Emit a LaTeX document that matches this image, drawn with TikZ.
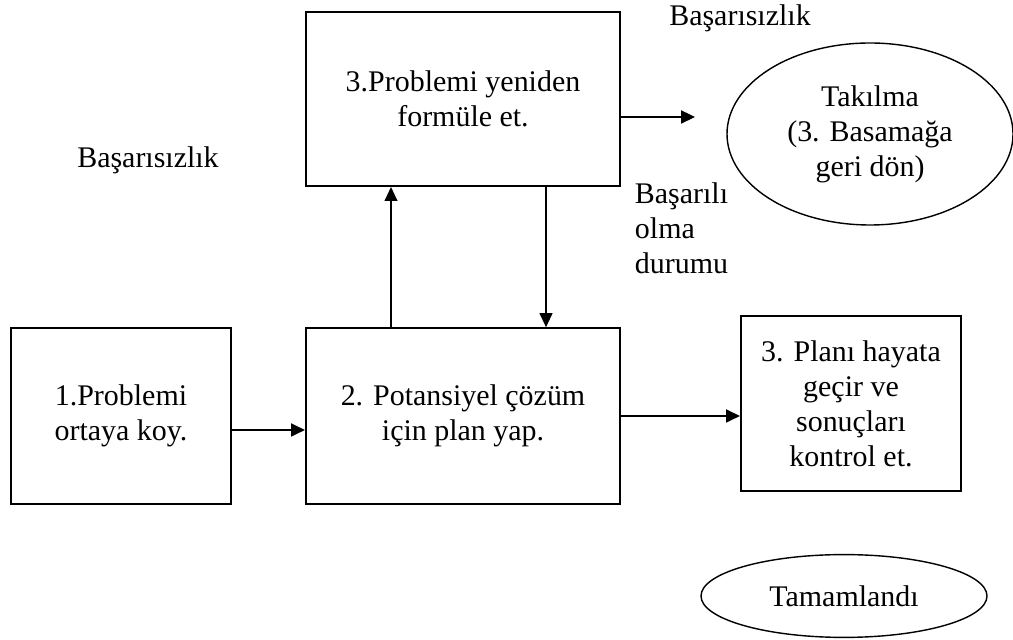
\documentclass[tikz,border=0pt]{standalone}
\usepackage{fontspec}
\setmainfont{Liberation Serif}
\usetikzlibrary{arrows.meta,shapes.geometric}
\begin{document}
\begin{tikzpicture}[
    every node/.style={font=\fontsize{21.3}{24.9}\selectfont},
    box/.style={draw, line width=1.4pt, align=center, inner sep=0pt},
    oval/.style={draw, ellipse, line width=1pt, align=center, inner sep=0pt},
    arr/.style={line width=1.1pt, -{Triangle[length=0.35cm,width=0.32cm]}},
    harr/.style={arr, line width=1.7pt}]
            \useasboundingbox (0,0) rectangle (25.325,16);
            % boxes
            \node[box, minimum width=5.5cm, minimum height=4.39cm] (ortaya) at (3.025,5.6) {1.Problemi\\ortaya koy.};
            \node[box, minimum width=7.85cm, minimum height=4.39cm] (plan) at (11.575,5.6) {2. Potansiyel çözüm\\için plan yap.};
            \node[box, minimum width=7.85cm, minimum height=4.35cm] (formul) at (11.575,13.525) {3.Problemi yeniden\\formüle et.};
            \node[box, minimum width=5.5cm, minimum height=4.375cm] (hayata) at (21.275,5.9125) {3. Planı hayata\\geçir ve\\sonuçları\\kontrol et.};
            % ovals
            \node[oval, minimum width=7.15cm, minimum height=4.55cm] (takilma) at (21.75,12.65) {Takılma\\(3. Basamağa\\geri dön)};
            \node[oval, minimum width=7.15cm, minimum height=2.07cm] (tamam) at (21.1,1.1) {Tamamlandı};
            % labels
            \node (basarisiz1) at (18.5,15.55) {Başarısızlık};
            \node (basarisiz2) at (3.7,12) {Başarısızlık};
            \node[anchor=west, align=left] (basarili) at (15.75,10.3) {Başarılı\\olma\\durumu};
            % arrows
            \draw[harr] ([yshift=-0.35cm]ortaya.east) -- ([yshift=-0.35cm]plan.west);
            \draw[harr] (plan.east) -- (plan.east -| hayata.west);
            \draw[arr] ([xshift=-1.8cm]plan.north) -- ([xshift=-1.8cm]formul.south);
            \draw[arr] ([xshift=2.075cm]formul.south) -- ([xshift=2.075cm]plan.north);
            \draw[harr, shorten >=0.78cm] ([yshift=-0.45cm]formul.east) -- ([yshift=-0.45cm]formul.east -| takilma.west);
\end{tikzpicture}
\end{document}
